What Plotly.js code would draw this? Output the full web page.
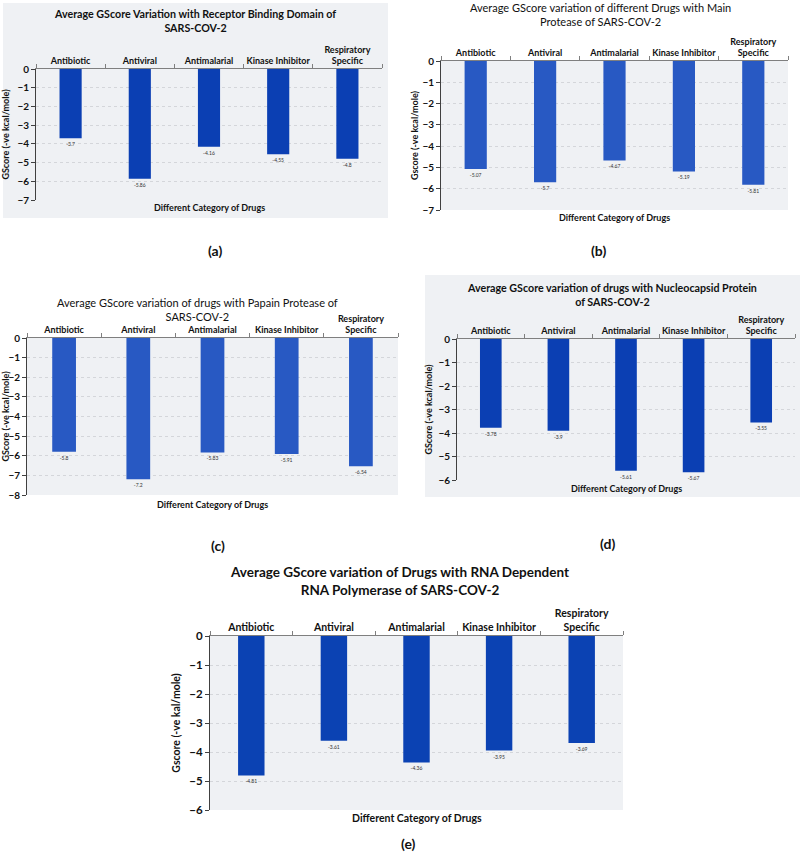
<!DOCTYPE html>
<html>
<head>
<meta charset="utf-8">
<script src="https://cdn.plot.ly/plotly-3.0.1.min.js"></script>
<style>html,body{margin:0;padding:0;background:#fff;}#chart{width:800px;height:852px;}</style>
</head>
<body>
<div id="chart"></div>
<script>
// ---- data ----
const categories = ["Antibiotic", "Antiviral", "Antimalarial", "Kinase Inhibitor", "Respiratory<br>Specific"];
const rbdScores = [-3.7, -5.86, -4.16, -4.55, -4.8];
const mainProteaseScores = [-5.07, -5.7, -4.67, -5.19, -5.81];
const papainProteaseScores = [-5.8, -7.2, -5.83, -5.91, -6.54];
const nucleocapsidScores = [-3.78, -3.9, -5.61, -5.67, -3.55];
const rdrpScores = [-4.81, -3.61, -4.36, -3.95, -3.69];
const panelTitles = [
  "Average GScore Variation with Receptor Binding Domain of<br>SARS-COV-2",
  "Average GScore variation of different Drugs with Main<br>Protease of SARS-COV-2",
  "Average GScore variation of drugs with Papain Protease of<br>SARS-COV-2",
  "Average GScore variation of drugs with Nucleocapsid Protein<br>of SARS-COV-2",
  "Average GScore variation of Drugs with RNA Dependent<br>RNA Polymerase of SARS-COV-2"
];
const yTitles = ["GScore (-ve kcal/mole)", "Gscore (-ve kcal/mole)", "GScore (-ve kcal/mole)", "GScore (-ve kcal/mole)", "Gscore (-ve kal/mole)"];
const xTitle = "Different Category of Drugs";
const panelLabels = ["(a)", "(b)", "(c)", "(d)", "(e)"];
const yMins = [-7, -7, -8, -6, -6];

// ---- layout config (pixels) ----
const W = 800, H = 852;
const FONT = "Lato, 'Open Sans', sans-serif";
const panels = [
  {vals: rbdScores, x0: 36, x1: 382, y0: 69, y1: 200, color: "#0b3fb3", titleX: 195, titleY: 21, titleSize: 10.7, titleBold: true, catSize: 9, tickSize: 10, ytSize: 9, axY: 207, lab: [215, 251], bg: [3, 3, 388, 218], standoff: 6},
  {vals: mainProteaseScores, x0: 441, x1: 788, y0: 61, y1: 210, color: "#2859c3", titleX: 600, titleY: 14, titleSize: 11, titleBold: false, catSize: 9, tickSize: 10, ytSize: 9, axY: 217, lab: [598, 250], bg: null, standoff: 2},
  {vals: papainProteaseScores, x0: 27, x1: 398, y0: 338, y1: 495, color: "#2859c3", titleX: 197, titleY: 309, titleSize: 11, titleBold: false, catSize: 9, tickSize: 10, ytSize: 9, axY: 505, lab: [218, 545], bg: null, standoff: 4},
  {vals: nucleocapsidScores, x0: 457, x1: 795, y0: 339, y1: 480, color: "#0b3fb3", titleX: 612, titleY: 295, titleSize: 10.7, titleBold: true, catSize: 9, tickSize: 10, ytSize: 9, axY: 488, lab: [607, 543], bg: [425, 275, 800, 497], standoff: 4},
  {vals: rdrpScores, x0: 210, x1: 623, y0: 636, y1: 810, color: "#0b42b3", titleX: 399, titleY: 581, titleSize: 13.5, titleBold: true, catSize: 10.5, tickSize: 11.5, ytSize: 10.5, axY: 818, lab: [408, 843], bg: null, standoff: 6}
];

const px = x => x / W;
const py = y => 1 - y / H;

const data = [];
const layout = {
  width: W, height: H,
  margin: {l: 0, r: 0, t: 0, b: 0},
  paper_bgcolor: "#ffffff",
  plot_bgcolor: "#eff1f4",
  showlegend: false,
  bargap: 0.68,
  font: {family: FONT, color: "#222"},
  annotations: [],
  shapes: []
};

panels.forEach((p, i) => {
  const n = i + 1;
  const xa = "x" + (n === 1 ? "" : n), ya = "y" + (n === 1 ? "" : n);
  data.push({
    type: "bar",
    x: categories,
    y: p.vals,
    xaxis: xa, yaxis: ya,
    marker: {color: p.color},
    text: p.vals.map(v => String(v)),
    textposition: "outside",
    textangle: 0,
    textfont: {size: 5, color: "#333", family: FONT},
    cliponaxis: false,
    hoverinfo: "skip"
  });
  layout["xaxis" + (n === 1 ? "" : n)] = {
    domain: [px(p.x0), px(p.x1)],
    anchor: ya,
    side: "top",
    type: "category",
    range: [-0.5, 4.5],
    showline: true, linecolor: "#7f7f7f", linewidth: 1,
    ticks: "outside", tickson: "boundaries", ticklen: 4, tickcolor: "#7f7f7f",
    showgrid: false, zeroline: false,
    tickfont: {size: p.catSize, family: FONT, color: "#111", weight: "bold"},
    tickangle: 0,
    fixedrange: true
  };
  layout["yaxis" + (n === 1 ? "" : n)] = {
    domain: [py(p.y1), py(p.y0)],
    anchor: xa,
    range: [yMins[i], 0],
    dtick: 1,
    showline: true, linecolor: "#404040", linewidth: 1,
    ticks: "outside", ticklen: 4, tickcolor: "#404040",
    showgrid: true, gridcolor: "#d4d6da", gridwidth: 1, griddash: "dot",
    zeroline: false,
    tickfont: {size: p.tickSize, family: FONT, color: "#111", weight: "bold"},
    title: {text: yTitles[i], font: {size: p.ytSize, family: FONT, color: "#111", weight: "bold"}, standoff: p.standoff},
    fixedrange: true
  };
  layout.annotations.push({
    xref: "paper", yref: "paper", x: px(p.titleX), y: py(p.titleY),
    xanchor: "center", yanchor: "middle", showarrow: false,
    text: p.titleBold ? "<b>" + panelTitles[i] + "</b>" : panelTitles[i],
    font: {size: p.titleSize, family: FONT, color: "#111"}
  });
  layout.annotations.push({
    xref: "paper", yref: "paper", x: px((p.x0 + p.x1) / 2), y: py(p.axY),
    xanchor: "center", yanchor: "middle", showarrow: false,
    text: "<b>" + xTitle + "</b>",
    font: {size: p.catSize, family: FONT, color: "#111"}
  });
  layout.annotations.push({
    xref: "paper", yref: "paper", x: px(p.lab[0]), y: py(p.lab[1]),
    xanchor: "center", yanchor: "middle", showarrow: false,
    text: "<b>" + panelLabels[i] + "</b>",
    font: {size: 14, family: FONT, color: "#111"}
  });
  if (p.bg) {
    layout.shapes.push({
      type: "rect", xref: "paper", yref: "paper", layer: "below",
      x0: px(p.bg[0]), x1: px(p.bg[2]), y0: py(p.bg[3]), y1: py(p.bg[1]),
      fillcolor: "#eff1f4", line: {width: 0}
    });
  }
});

Plotly.newPlot("chart", data, layout, {displayModeBar: false, staticPlot: true});
</script>
</body>
</html>
